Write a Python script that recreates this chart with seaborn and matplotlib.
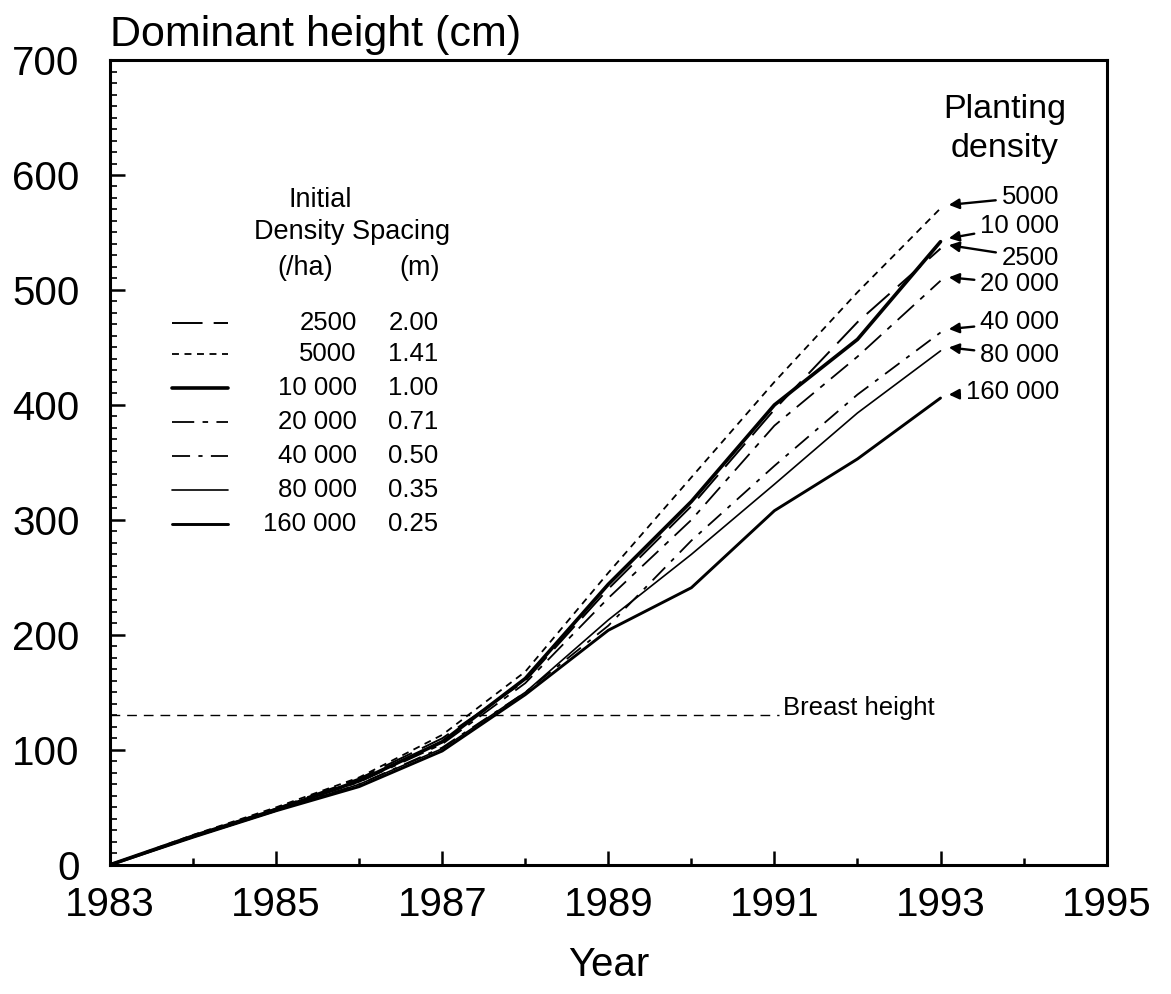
import numpy as np
import pandas as pd
import matplotlib
matplotlib.use("Agg")
import matplotlib.pyplot as plt
import seaborn as sns

# ---------------- data ----------------
years = [1983, 1984, 1985, 1986, 1987, 1988, 1989, 1990, 1991, 1992, 1993]
h_2500 = [0, 25, 49, 75, 110, 160, 240, 312, 396, 472, 536]
h_5000 = [0, 26, 50, 76, 113, 168, 254, 337, 420, 498, 571]
h_10000 = [0, 25, 48, 73, 107, 162, 244, 316, 400, 457, 542]
h_20000 = [0, 25, 48, 72, 105, 158, 232, 300, 382, 442, 508]
h_40000 = [0, 24, 47, 70, 102, 150, 208, 282, 347, 409, 463]
h_80000 = [0, 24, 47, 70, 101, 150, 213, 270, 331, 393, 447]
h_160000 = [0, 24, 47, 68, 99, 148, 204, 241, 308, 353, 406]

density_labels = ["2500", "5000", "10 000", "20 000", "40 000", "80 000", "160 000"]
spacing_labels = ["2.00", "1.41", "1.00", "0.71", "0.50", "0.35", "0.25"]
series = [h_2500, h_5000, h_10000, h_20000, h_40000, h_80000, h_160000]

breast_height = 130
x_ticklabels = ["1983", "1985", "1987", "1989", "1991", "1993", "1995"]
y_ticks = [0, 100, 200, 300, 400, 500, 600, 700]

# ---------------- styles ----------------
styles = [
    dict(lw=1.4, ls=(0, (22, 8))),             # 2500
    dict(lw=1.3, ls=(0, (5, 4))),              # 5000
    dict(lw=2.6, ls="-"),                      # 10000
    dict(lw=1.3, ls=(0, (16, 6, 4, 6))),       # 20000
    dict(lw=1.3, ls=(0, (13, 6, 3, 6))),       # 40000
    dict(lw=1.2, ls="-"),                      # 80000
    dict(lw=2.1, ls="-"),                      # 160000
]

sns.set_style("ticks")
plt.rcParams["font.family"] = ["Liberation Sans", "DejaVu Sans"]
plt.rcParams["lines.scale_dashes"] = False
for k in ["text.color", "axes.labelcolor", "xtick.color", "ytick.color", "axes.edgecolor"]:
    plt.rcParams[k] = "black"

fig = plt.figure(figsize=(11.71, 9.94), dpi=100)
ax = fig.add_axes([0.094, 0.130, 0.851, 0.8096])

for vals, st in zip(series, styles):
    sns.lineplot(x=years, y=vals, ax=ax, color="black", lw=st["lw"], ls=st["ls"],
                 errorbar=None, sort=False)

# breast height
ax.plot([1983, 1991.05], [breast_height, breast_height], color="black", lw=1.0,
        ls=(0, (7, 5)))
ax.text(1991.1, breast_height + 6, "Breast height", fontsize=18.5, va="center", ha="left")

ax.set_xlim(1983, 1995)
ax.set_ylim(0, 700)

# ticks
ax.set_xticks([1983, 1985, 1987, 1989, 1991, 1993, 1995])
ax.set_xticklabels(x_ticklabels)
ax.set_xticks(np.arange(1984, 1995, 2), minor=True)
ax.set_yticks(y_ticks)
ax.set_yticklabels([str(v) for v in y_ticks])
ax.set_yticks(np.arange(0, 701, 10), minor=True)
ax.tick_params(axis="both", which="major", direction="in", labelsize=29, width=1.8,
               color="black")
ax.tick_params(axis="x", which="major", length=10, pad=15)
ax.tick_params(axis="x", which="minor", direction="in", length=5, width=1.8)
ax.tick_params(axis="y", which="major", length=11, pad=22)
ax.tick_params(axis="y", which="minor", direction="in", length=5, width=1.2)
for sp in ax.spines.values():
    sp.set_visible(True)
    sp.set_linewidth(2.2)
    sp.set_color("black")

ax.set_xlabel("Year", fontsize=29, labelpad=16)
ax.set_ylabel("")
fig.text(0.094, 0.965, "Dominant height (cm)", fontsize=31, va="center", ha="left")

# legend (manual)
ax.text(1985.53, 578, "Initial", fontsize=19.5, ha="center", va="center")
ax.text(1985.91, 550, "Density Spacing", fontsize=19.5, ha="center", va="center")
ax.text(1985.35, 519, "(/ha)", fontsize=19.5, ha="center", va="center")
ax.text(1986.73, 519, "(m)", fontsize=19.5, ha="center", va="center")
row_y = [471, 444, 415, 385, 356, 326, 296]
for ry, st, dl, sl in zip(row_y, styles, density_labels, spacing_labels):
    ax.plot([1983.75, 1984.42], [ry, ry], color="black", lw=st["lw"], ls=st["ls"])
    ax.text(1985.97, ry, dl, fontsize=18.5, ha="right", va="center")
    ax.text(1986.35, ry, sl, fontsize=18.5, ha="left", va="center")

# planting density labels
ax.text(1993.77, 657, "Planting", fontsize=24.5, ha="center", va="center")
ax.text(1993.77, 623, "density", fontsize=24.5, ha="center", va="center")

order = [1, 2, 0, 3, 4, 5, 6]  # 5000, 10000, 2500, 20000, 40000, 80000, 160000
label_y = [581, 556, 528, 505, 472, 443, 411]
for idx, ly in zip(order, label_y):
    end = series[idx][-1]
    ax.annotate(density_labels[idx], xy=(1993.1, end + 3), xytext=(1994.43, ly),
                fontsize=18.5, ha="right", va="center",
                arrowprops=dict(arrowstyle="-|>", color="black", lw=1.7,
                                mutation_scale=15, shrinkA=2, shrinkB=0))

fig.savefig("out.png", dpi=100, facecolor="white")
